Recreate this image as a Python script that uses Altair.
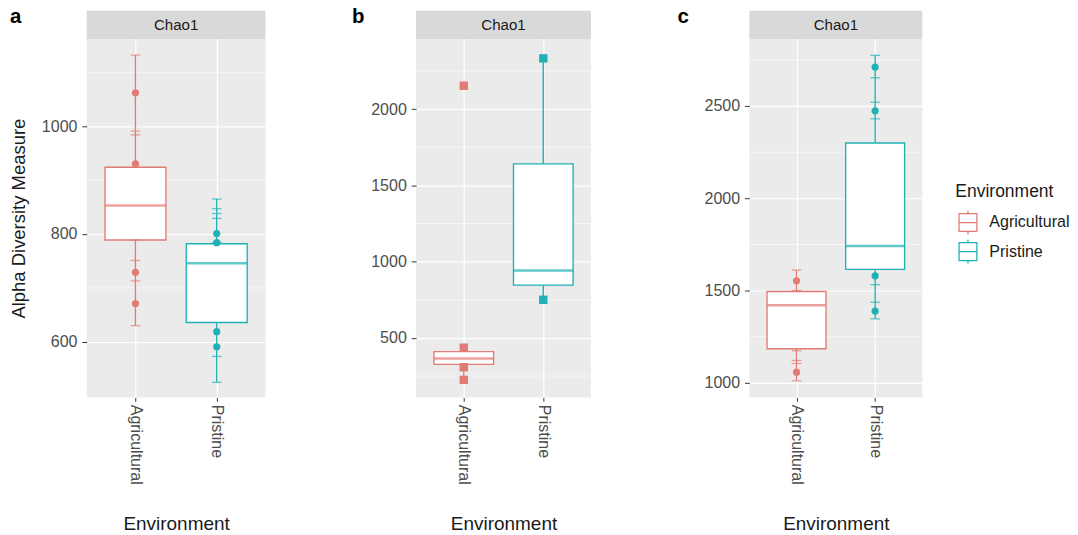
import altair as alt
import pandas as pd

CATEGORIES = ["Agricultural", "Pristine"]
COLORS = ["#E27B74", "#1FB1B3"]
STRIP_LABEL = "Chao1"
Y_TITLE = "Alpha Diversity Measure"
X_TITLE = "Environment"
LEGEND_TITLE = "Environment"

# ---- panel a ----
A_LOWER = [630, 525]
A_Q1 = [789, 636]
A_MEDIAN = [853, 746]
A_Q3 = [924, 782]
A_UPPER = [1132, 865]
A_POINTS_AGR = [1062, 930, 729, 671]
A_POINTS_PRI = [801, 784, 619, 591]
A_CAPS_AGR = [1132, 991, 984, 789, 751, 713, 630]
A_CAPS_PRI = [865, 847, 838, 829, 784, 573, 525]
A_TICKS = [600, 800, 1000]
A_MINOR = [700, 900, 1100]
A_DOMAIN = [497, 1162]

# ---- panel b ----
B_LOWER = [225, 750]
B_Q1 = [327, 846]
B_MEDIAN = [365, 942]
B_Q3 = [410, 1641]
B_UPPER = [436, 2333]
B_POINTS_AGR = [2154, 436, 308, 225]
B_POINTS_PRI = [2333, 750]
B_CAPS_AGR = []
B_CAPS_PRI = []
B_TICKS = [500, 1000, 1500, 2000]
B_MINOR = [250, 750, 1250, 1750, 2250]
B_DOMAIN = [110, 2461]

# ---- panel c ----
C_LOWER = [1011, 1347]
C_Q1 = [1185, 1615]
C_MEDIAN = [1421, 1741]
C_Q3 = [1495, 2300]
C_UPPER = [1611, 2775]
C_POINTS_AGR = [1553, 1058]
C_POINTS_PRI = [2711, 2474, 1580, 1389]
C_CAPS_AGR = [1611, 1500, 1174, 1121, 1105, 1011]
C_CAPS_PRI = [2775, 2653, 2521, 2431, 1532, 1437, 1347]
C_TICKS = [1000, 1500, 2000, 2500]
C_MINOR = [1250, 1750, 2250, 2750]
C_DOMAIN = [921, 2864]

H = 369
BOX_PATH = "M-0.75,-0.75H0.75V0.75H-0.75Z M-0.75,0H0.75 M0,-0.75V-1 M0,0.75V1"

legend = alt.Legend(
    title=LEGEND_TITLE, orient="none", legendX=894, legendY=149,
    symbolType=BOX_PATH, symbolSize=600, symbolStrokeWidth=1.3,
    symbolFillColor="white", titleFontSize=18, titleFontWeight="normal",
    titleColor="#1A1A1A", labelFontSize=16.5, labelColor="#1A1A1A",
    rowPadding=0, titlePadding=9, labelOffset=9,
)


def panel(letter, letter_x, W, lower, q1, med, q3, upper, pts_agr, pts_pri,
          caps_agr, caps_pri, ticks, minor, domain, shape, psize, show_title):
    box_df = pd.DataFrame({"env": CATEGORIES, "lower": lower, "q1": q1,
                           "median": med, "q3": q3, "upper": upper})
    pts_df = pd.DataFrame({"env": [CATEGORIES[0]] * len(pts_agr) + [CATEGORIES[1]] * len(pts_pri),
                           "value": pts_agr + pts_pri})
    caps_df = pd.DataFrame({"env": [CATEGORIES[0]] * len(caps_agr) + [CATEGORIES[1]] * len(caps_pri),
                            "value": caps_agr + caps_pri})
    minor_df = pd.DataFrame({"value": minor})
    one = pd.DataFrame({"label": [STRIP_LABEL], "letter": [letter]})

    step = W / (1 + 2 * 0.6)
    bw = 0.75 * step

    yscale = alt.Scale(domain=domain, nice=False, zero=False)
    yaxis = alt.Axis(values=ticks, format="d", title=Y_TITLE if show_title else None)
    xscale = alt.Scale(type="point", padding=0.6, domain=CATEGORIES)
    xaxis = alt.Axis(title=X_TITLE)
    # colour scale: data-driven domain; stroke scale: explicit domain (carries the legend)
    cscale = alt.Scale(range=COLORS)
    sscale = alt.Scale(domain=CATEGORIES, range=COLORS)

    def X():
        return alt.X("env:N", scale=xscale, axis=xaxis)

    def Y(field):
        return alt.Y(field, type="quantitative", scale=yscale, axis=yaxis)

    def C():
        return alt.Color("env:N", scale=cscale, legend=None)

    minor_layer = alt.Chart(minor_df).mark_rule(color="white", strokeWidth=0.6).encode(
        y=Y("value"))
    strip = alt.Chart(one).mark_rect(color="#D9D9D9").encode(
        x=alt.value(0), x2=alt.value(W), y=alt.value(-29), y2=alt.value(0))
    strip_text = alt.Chart(one).mark_text(fontSize=15.5, color="#1A1A1A", baseline="middle").encode(
        x=alt.value(W / 2), y=alt.value(-14.5), text="label:N")
    letter_text = alt.Chart(one).mark_text(fontSize=21, fontWeight="bold", color="black",
                                           align="left", baseline="alphabetic").encode(
        x=alt.value(letter_x), y=alt.value(-16), text="letter:N")
    whisk = alt.Chart(box_df).mark_rule(strokeWidth=1.4).encode(
        x=X(), y=Y("lower"), y2="upper", color=C())
    box = alt.Chart(box_df).mark_bar(size=bw, fill="white", strokeWidth=1.4).encode(
        x=X(), y=Y("q1"), y2="q3",
        stroke=alt.Stroke("env:N", scale=sscale, legend=legend))
    median_l = alt.Chart(box_df).mark_tick(size=bw, thickness=2.6).encode(
        x=X(), y=Y("median"), color=C())
    layers = [minor_layer, strip, strip_text, letter_text, whisk, box, median_l]
    if len(caps_df):
        caps = alt.Chart(caps_df).mark_tick(size=10, thickness=1.3).encode(
            x=X(), y=Y("value"), color=C())
        layers.append(caps)
    pts = alt.Chart(pts_df).mark_point(filled=True, shape=shape, size=psize, opacity=1).encode(
        x=X(), y=Y("value"), color=C())
    layers.append(pts)
    return alt.layer(*layers).properties(width=W, height=H)


pa = panel("a", -79, 184, A_LOWER, A_Q1, A_MEDIAN, A_Q3, A_UPPER, A_POINTS_AGR, A_POINTS_PRI,
           A_CAPS_AGR, A_CAPS_PRI, A_TICKS, A_MINOR, A_DOMAIN, "circle", 55, True)
pb = panel("b", -66, 180, B_LOWER, B_Q1, B_MEDIAN, B_Q3, B_UPPER, B_POINTS_AGR, B_POINTS_PRI,
           B_CAPS_AGR, B_CAPS_PRI, B_TICKS, B_MINOR, B_DOMAIN, "square", 75, False)
pc = panel("c", -74, 178, C_LOWER, C_Q1, C_MEDIAN, C_Q3, C_UPPER, C_POINTS_AGR, C_POINTS_PRI,
           C_CAPS_AGR, C_CAPS_PRI, C_TICKS, C_MINOR, C_DOMAIN, "circle", 55, False)

chart = alt.concat(pa, pb, pc, columns=3, spacing=88, align="none").properties(
    padding={"left": 2, "top": -9, "right": 0, "bottom": 0}
).configure(
    font="Liberation Sans"
).configure_view(
    fill="#EBEBEB", stroke=None
).configure_axisY(
    domain=False, tickColor="#333333", tickSize=5, tickWidth=1,
    labelColor="#4D4D4D", labelFontSize=16.5, labelPadding=5,
    gridColor="white", gridWidth=1.2, minExtent=46, maxExtent=46,
    titleFontSize=19, titleFontWeight="normal", titleColor="#1A1A1A", titlePadding=14,
).configure_axisX(
    domain=False, tickColor="#333333", tickSize=4, tickWidth=1,
    labelColor="#4D4D4D", labelFontSize=16.5, labelPadding=3,
    labelAngle=90, labelAlign="left", labelBaseline="middle",
    grid=True, gridColor="white", gridWidth=1.2, bandPosition=0.5,
    titleFontSize=19.5, titleFontWeight="normal", titleColor="#1A1A1A", titlePadding=31,
)

chart.save("out.html", embed_options={"renderer": "svg", "actions": False})
